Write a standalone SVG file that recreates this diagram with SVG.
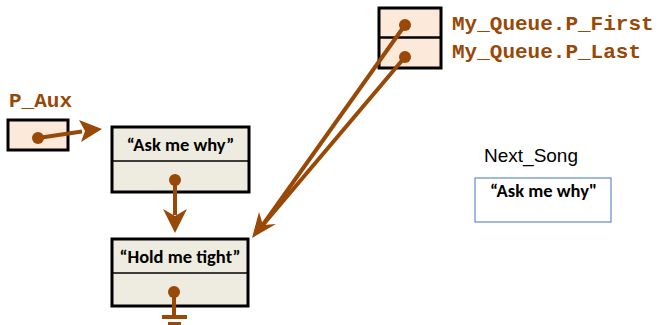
<svg xmlns="http://www.w3.org/2000/svg" width="662" height="325" viewBox="0 0 662 325">
<style>
.ptr{fill:#fde9d9;stroke:#000;stroke-width:3}
.node{fill:#eeece1;stroke:#000;stroke-width:3}
.div{stroke:#000;stroke-width:1.5}
.lbl{font-family:"Liberation Mono",monospace;font-weight:bold;font-size:21px;fill:#984807}
.txt{font-family:Carlito,"Open Sans","Liberation Sans",sans-serif;font-weight:bold;font-size:18.5px;fill:#000}
.con{stroke:#984807;stroke-width:4;fill:none}
.dot{fill:#984807}
</style>
<g id="p_aux">
<text class="lbl" x="9" y="107">P_Aux</text>
<rect class="ptr" x="8" y="120" width="60" height="30"/>
</g>
<g id="queue">
<rect class="ptr" x="379" y="8" width="62" height="60"/>
<line class="div" x1="379" y1="37.5" x2="441" y2="37.5" style="stroke-width:2.5"/>
<text class="lbl" x="452" y="30">My_Queue.P_First</text>
<text class="lbl" x="452" y="58">My_Queue.P_Last</text>
</g>
<g id="node1">
<rect class="node" x="112" y="127" width="137" height="65"/>
<line class="div" x1="112" y1="161" x2="249" y2="161"/>
<text class="txt" x="180.5" y="151" text-anchor="middle">“Ask me why”</text>
</g>
<g id="node2">
<rect class="node" x="112" y="239" width="136" height="67"/>
<line class="div" x1="112" y1="273" x2="248" y2="273"/>
<text class="txt" x="180" y="263" text-anchor="middle">“Hold me tight”</text>
</g>
<g id="next_song">
<text x="484" y="162" style="font-family:'Liberation Sans',Arial,sans-serif;font-size:19px;fill:#000">Next_Song</text>
<rect x="475" y="178" width="136" height="44" fill="#fff" stroke="#4472c4" stroke-width="1"/>
<text class="txt" x="490" y="197">“Ask me why"</text>
</g>
<g id="connectors">
<line class="con" x1="38" y1="138" x2="82" y2="131.5"/>
<path d="M102,129 L79,120 L85,131 L81,142 Z" fill="#984807"/>
<line class="con" x1="175" y1="180" x2="175" y2="215"/>
<path d="M175,233 L163,209 L175,216 L187,209 Z" fill="#984807"/>
<line class="con" x1="405" y1="25" x2="262" y2="226"/>
<line class="con" x1="405" y1="57" x2="262" y2="226"/>
<path d="M252,238 L259,212 L263,225 L276,224 Z" fill="#984807"/>
<line class="con" x1="174" y1="292" x2="174" y2="316"/>
<line class="con" x1="162" y1="317" x2="187" y2="317"/>
<line class="con" x1="168" y1="324" x2="181" y2="324"/>
<circle class="dot" cx="38" cy="138" r="6"/>
<circle class="dot" cx="175" cy="180" r="6"/>
<circle class="dot" cx="174" cy="292" r="6"/>
<circle class="dot" cx="405" cy="25" r="6"/>
<circle class="dot" cx="405" cy="57" r="6"/>
</g>
</svg>
